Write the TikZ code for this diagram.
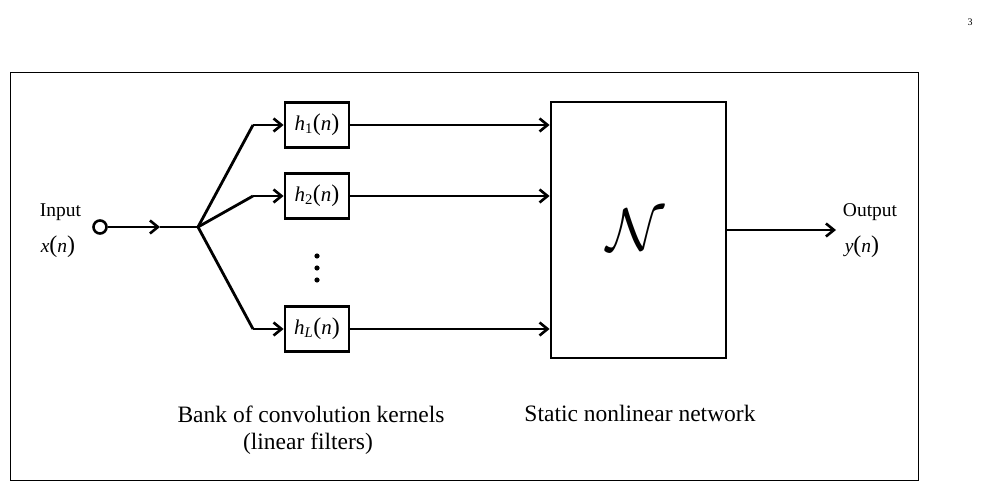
\documentclass[tikz,border=0pt]{standalone}
\usepackage{fontspec}
\setmainfont{Liberation Serif}
\usetikzlibrary{arrows.meta}
\newcommand{\bigpar}[1]{{\fontsize{24}{24}\selectfont #1}}
\begin{document}
\begin{tikzpicture}[x=1pt,y=-1pt,
  wire/.style={line width=2.8pt},
  arr/.style={wire,-{Straight Barb[length=8pt,width=13pt,line width=2.6pt]}},
  kbox/.style={draw,line width=2.8pt,minimum width=64pt,minimum height=45pt,inner sep=0pt,font=\fontsize{21}{22}\selectfont},
  lbl/.style={font=\fontsize{19.5}{22}\selectfont,inner sep=0pt,anchor=base},
  big/.style={font=\fontsize{23.5}{26}\selectfont,inner sep=0pt,anchor=base}]
\useasboundingbox (0,0) rectangle (984,486);
\node[font=\fontsize{10}{10}\selectfont] (pg) at (970,22) {3};
\node[draw,line width=0.9pt,minimum width=908pt,minimum height=408pt,inner sep=0pt] (frame) at (464,276) {};
% input
\node[lbl] (inlbl) at (60.5,217) {Input};
\node[lbl] (xn) at (58,252) {\textit{x}\bigpar{(}\textit{n}\bigpar{)}};
\node[draw,circle,line width=2.6pt,minimum size=13pt,inner sep=0pt] (in) at (100,227) {};
\coordinate (mid) at (160,227);
\coordinate (junc) at (198,227);
\draw[arr] (in) -- (mid);
\draw[wire] (mid) -- (junc);
% kernels
\node[kbox] (h1) at (317,125) {\textit{h}\textsubscript{1}\bigpar{(}\textit{n}\bigpar{)}};
\node[kbox] (h2) at (317,196) {\textit{h}\textsubscript{2}\bigpar{(}\textit{n}\bigpar{)}};
\node[kbox] (hL) at (317,329) {\textit{h}\textsubscript{\textit{L}}\bigpar{(}\textit{n}\bigpar{)}};
\fill (317,256) circle (2.6pt) coordinate (d1);
\fill (317,268) circle (2.6pt) coordinate (d2);
\fill (317,280) circle (2.6pt) coordinate (d3);
\coordinate (b1) at (253,125);
\coordinate (b2) at (253,196);
\coordinate (bL) at (253,329);
\draw[wire,line join=round] (junc) -- (b1);
\draw[wire,line join=round] (junc) -- (b2);
\draw[wire,line join=round] (junc) -- (bL);
\draw[arr] (b1) -- (h1.west);
\draw[arr] (b2) -- (h2.west);
\draw[arr] (bL) -- (hL.west);
% network
\node[draw,line width=2.8pt,minimum width=175pt,minimum height=256pt,inner sep=0pt] (net) at (638.5,230) {};
\node[inner sep=0pt,font=\fontsize{20}{20}\selectfont] (N) at (636,230) {\scalebox{2.9}{$\mathcal{N}$}};
\draw[arr] (h1.east) -- (h1.east -| net.west);
\draw[arr] (h2.east) -- (h2.east -| net.west);
\draw[arr] (hL.east) -- (hL.east -| net.west);
% output
\coordinate (outend) at (836,230);
\draw[arr] (net.east |- outend) -- (outend);
\node[lbl] (outlbl) at (870,217) {Output};
\node[lbl] (yn) at (862,252) {\textit{y}\bigpar{(}\textit{n}\bigpar{)}};
% captions
\node[big] (cap1) at (311,422) {Bank of convolution kernels};
\node[big] (cap2) at (308,449) {(linear filters)};
\node[big] (cap3) at (640,421) {Static nonlinear network};
\end{tikzpicture}
\end{document}
